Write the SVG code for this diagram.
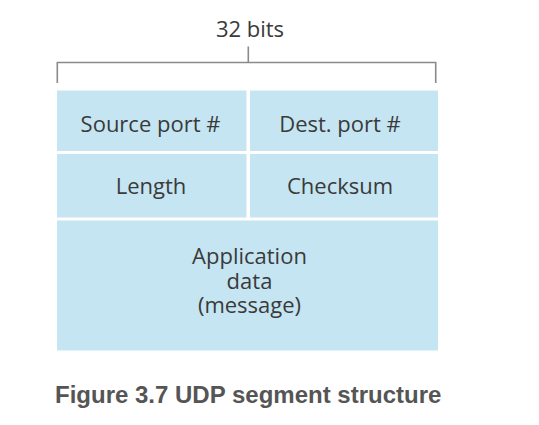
<svg xmlns="http://www.w3.org/2000/svg" width="539" height="425" viewBox="0 0 539 425">
<style>
.cell{fill:#c5e5f2}
.lbl{font-family:"Open Sans","Noto Sans",sans-serif;font-size:22px;fill:#3a3a3a;text-anchor:middle}
.br{fill:none;stroke:#8a8a8a;stroke-width:1.6}
.cap{font-family:"Liberation Sans",Arial,sans-serif;font-weight:bold;font-size:24px;fill:#555555}
</style>
<rect width="539" height="425" fill="#ffffff"/>
<g id="bracket">
<path class="br" d="M57.3,83 V62.5 H435.7 V83"/>
<path class="br" d="M248.3,46.5 V62.5"/>
<text class="lbl" x="250" y="37">32 bits</text>
</g>
<g id="source-port">
<rect class="cell" x="57" y="90.5" width="189.5" height="60.5"/>
<text class="lbl" x="150.5" y="132">Source port #</text>
</g>
<g id="dest-port">
<rect class="cell" x="250" y="90.5" width="188" height="60.5"/>
<text class="lbl" x="340" y="132">Dest. port #</text>
</g>
<g id="length">
<rect class="cell" x="57" y="154" width="189.5" height="63.5"/>
<text class="lbl" x="151" y="193.5">Length</text>
</g>
<g id="checksum">
<rect class="cell" x="250" y="154" width="188" height="63.5"/>
<text class="lbl" x="340" y="193.5">Checksum</text>
</g>
<g id="app-data">
<rect class="cell" x="57" y="220.5" width="381" height="130"/>
<text class="lbl" x="249.5" y="263.5">Application</text>
<text class="lbl" x="249.5" y="289">data</text>
<text class="lbl" x="249.5" y="312.5">(message)</text>
</g>
<g id="connectors"></g>
<text class="cap" x="55" y="403">Figure 3.7 UDP segment structure</text>
</svg>
